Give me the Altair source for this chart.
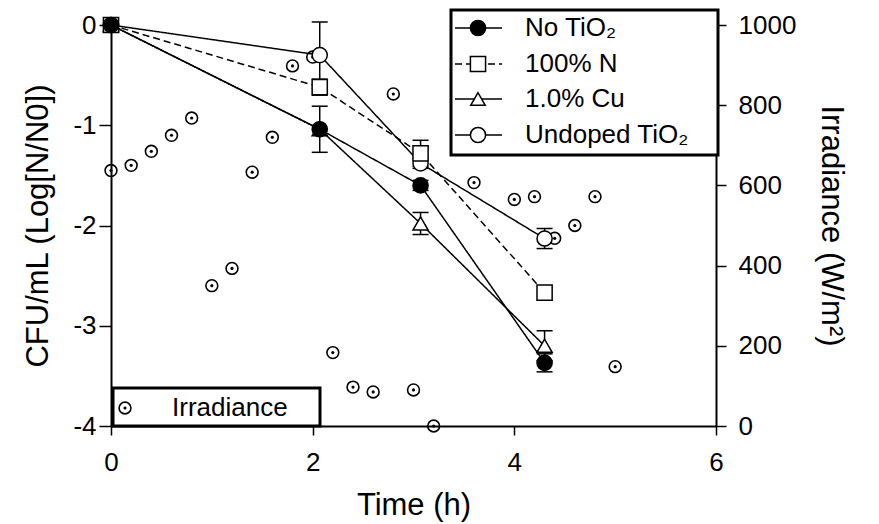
import altair as alt
import pandas as pd

FONT = "Liberation Sans"

# ---- data ----
time_h = [0, 2.07, 3.07, 4.3]
series = ["No TiO₂", "100% N", "1.0% Cu", "Undoped TiO₂"]
no_tio2 = [0, -1.04, -1.6, -3.37]
n100 = [0, -0.62, -1.28, -2.67]
cu10 = [0, -1.04, -1.98, -3.2]
undoped = [0, -0.3, -1.38, -2.13]
err_no_tio2 = [0, 0.23, 0.05, 0.09]
err_n100 = [0, 0.08, 0.13, 0]
err_cu10 = [0, 0.0, 0.11, 0.15]
err_undoped = [0, 0.33, 0.05, 0.1]

irr_time = [0, 0.2, 0.4, 0.6, 0.8, 1.0, 1.2, 1.4, 1.6, 1.8, 2.0, 2.2, 2.4, 2.6,
            2.8, 3.0, 3.2, 3.6, 4.0, 4.2, 4.4, 4.6, 4.8, 5.0]
irr_value = [637, 650, 685, 725, 768, 350, 393, 633, 720, 898, 920, 183, 97, 85,
             828, 90, 0, 607, 565, 572, 468, 500, 572, 148]

x_ticks = [0, 2, 4, 6]
y_ticks = [0, -1, -2, -3, -4]
irr_ticks = [0, 200, 400, 600, 800, 1000]

# ---- styles ----
shapes = ["circle", "square", "triangle-up", "circle"]
fills = ["black", "white", "white", "white"]
sizes = [230, 230, 210, 230]
dashes = [[1, 0], [7, 4], [1, 0], [1, 0]]

values = [no_tio2, n100, cu10, undoped]
errs = [err_no_tio2, err_n100, err_cu10, err_undoped]
rows = []
for s, vals, es in zip(series, values, errs):
    for t, v, e in zip(time_h, vals, es):
        rows.append({"series": s, "time": t, "value": v, "err": e,
                     "lo": v - e, "hi": v + e})
df = pd.DataFrame(rows)
err_df = df[df["err"] > 0]
pts_df = df.iloc[::-1].reset_index(drop=True)   # filled circles drawn on top
irr_df = pd.DataFrame({"time": irr_time, "irr": irr_value})

x_scale = alt.Scale(domain=[0, 6], nice=False, zero=False)
x_axis = alt.Axis(values=x_ticks, title="Time (h)", tickSize=9, labelPadding=14,
                  titlePadding=15, domainWidth=2, tickWidth=1.5, labelFlush=False)
y_scale = alt.Scale(domain=[-4, 0], nice=False, zero=False)
y_axis = alt.Axis(values=y_ticks, title="CFU/mL (Log[N/N0])", tickSize=12,
                  labelPadding=3, titlePadding=18, domainWidth=2, tickWidth=1.5,
                  labelExpr="'' + datum.value", labelFlush=False)
X = alt.X("time:Q", scale=x_scale, axis=x_axis)

def Yf(field):
    return alt.Y(field, scale=y_scale, axis=y_axis)

base = alt.Chart(df)
lines = base.mark_line(color="black", strokeWidth=1.5).encode(
    x=X, y=Yf("value:Q"), detail="series:N",
    strokeDash=alt.StrokeDash("series:N", scale=alt.Scale(domain=series, range=dashes), legend=None),
)
err_rule = alt.Chart(err_df).mark_rule(color="black", strokeWidth=1.5).encode(
    x=X, y=Yf("lo:Q"), y2="hi:Q")
cap_lo = alt.Chart(err_df).mark_rule(color="black", strokeWidth=1.5, xOffset=-8, x2Offset=8).encode(
    x=X, x2="time:Q", y=Yf("lo:Q"))
cap_hi = alt.Chart(err_df).mark_rule(color="black", strokeWidth=1.5, xOffset=-8, x2Offset=8).encode(
    x=X, x2="time:Q", y=Yf("hi:Q"))
pts = alt.Chart(pts_df).mark_point(filled=True, opacity=1, stroke="black", strokeWidth=1.5).encode(
    x=X, y=Yf("value:Q"),
    shape=alt.Shape("series:N", scale=alt.Scale(domain=series, range=shapes), legend=None),
    fill=alt.Fill("series:N", scale=alt.Scale(domain=series, range=fills), legend=None),
    size=alt.Size("series:N", scale=alt.Scale(domain=series, range=sizes), legend=None),
)
main = alt.layer(lines, err_rule, cap_lo, cap_hi, pts)

irr_axis = alt.Axis(values=irr_ticks, orient="right", title="Irradiance (W/m²)",
                    tickSize=10, labelPadding=12, titlePadding=19, domainWidth=2,
                    tickWidth=1.5, labelExpr="'' + datum.value", labelFlush=False)
irr_base = alt.Chart(irr_df).encode(
    x=X, y=alt.Y("irr:Q", scale=alt.Scale(domain=[0, 1000], nice=False), axis=irr_axis))
irr_outer = irr_base.mark_point(shape="circle", size=140, stroke="black",
                                strokeWidth=1.6, opacity=1, filled=False)
irr_inner = irr_base.mark_point(shape="circle", size=10, filled=True, color="black", opacity=1)
irr_layer = alt.layer(irr_outer, irr_inner)

# ---- manual legends ----
one = pd.DataFrame({"k": [0]})
leg_y = [3, 39, 74, 110]
legend_layers = [
    alt.Chart(one).mark_rect(fill="white", stroke="black", strokeWidth=3).encode(
        x=alt.value(340), x2=alt.value(607), y=alt.value(-15), y2=alt.value(130))
]
for i, s in enumerate(series):
    yy = leg_y[i]
    legend_layers.append(alt.Chart(one).mark_rule(color="black", strokeWidth=1.5, strokeDash=dashes[i]).encode(
        x=alt.value(344), x2=alt.value(391), y=alt.value(yy)))
    legend_layers.append(alt.Chart(one).mark_point(shape=shapes[i], size=sizes[i], filled=True,
                                                   fill=fills[i], stroke="black", strokeWidth=1.5,
                                                   opacity=1).encode(x=alt.value(367), y=alt.value(yy)))
    legend_layers.append(alt.Chart(one).mark_text(text=s, align="left", baseline="middle", font=FONT,
                                                  fontSize=26, color="black").encode(
        x=alt.value(414), y=alt.value(yy)))

legend_layers.append(alt.Chart(one).mark_rect(fill="white", stroke="black", strokeWidth=3).encode(
    x=alt.value(2), x2=alt.value(209), y=alt.value(363), y2=alt.value(401)))
legend_layers.append(alt.Chart(one).mark_point(shape="circle", size=140, stroke="black", strokeWidth=1.6,
                                               opacity=1, filled=False).encode(x=alt.value(14), y=alt.value(383)))
legend_layers.append(alt.Chart(one).mark_point(shape="circle", size=10, filled=True, color="black",
                                               opacity=1).encode(x=alt.value(14), y=alt.value(383)))
legend_layers.append(alt.Chart(one).mark_text(text="Irradiance", align="left", baseline="middle", font=FONT,
                                              fontSize=26, color="black").encode(
    x=alt.value(61), y=alt.value(383)))

chart = alt.layer(irr_layer, main, *legend_layers).resolve_scale(y="independent").properties(
    width=605, height=401,
    autosize=alt.AutoSizeParams(type="none"),
    padding={"left": 111, "top": 25, "right": 163, "bottom": 98},
    background="white",
).configure_axis(
    labelFont=FONT, titleFont=FONT, labelFontSize=26, titleFontSize=31,
    titleFontWeight="normal", labelColor="black", titleColor="black",
    domainColor="black", tickColor="black", grid=False,
).configure_view(stroke=None)

chart.save("out.html", embed_options={"renderer": "svg", "actions": False})
